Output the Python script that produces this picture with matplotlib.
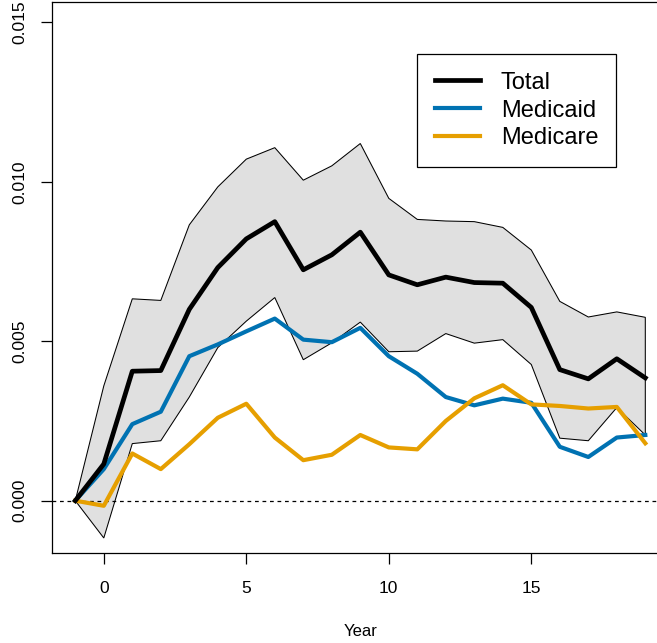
import matplotlib
matplotlib.use("Agg")
import matplotlib.pyplot as plt
import numpy as np

plt.rcParams['font.family'] = ['Liberation Sans', 'DejaVu Sans']

# event-study estimates by year relative to adoption
years = list(range(-1, 20))
total = [0.0, 0.00115, 0.00406, 0.00408, 0.0060, 0.00731, 0.00821, 0.00875, 0.00724,
         0.00771, 0.00842, 0.00708, 0.00677, 0.00701, 0.00684, 0.00682, 0.00606,
         0.00411, 0.00382, 0.00445, 0.00385]
upper = [0.0, 0.0036, 0.00633, 0.00628, 0.00865, 0.00984, 0.01071, 0.01107, 0.01005,
         0.0105, 0.0112, 0.00948, 0.00882, 0.00877, 0.00875, 0.00857, 0.00786,
         0.00625, 0.00576, 0.00592, 0.00575]
lower = [0.0, -0.00117, 0.00179, 0.00188, 0.00325, 0.0048, 0.00563, 0.00637, 0.00442,
         0.00495, 0.0056, 0.00467, 0.00469, 0.00524, 0.00494, 0.00505, 0.00427,
         0.00196, 0.00188, 0.00292, 0.00206]
medicaid = [0.0, 0.00099, 0.0024, 0.00279, 0.00453, 0.0049, 0.00531, 0.00571, 0.00505,
            0.00497, 0.00542, 0.00453, 0.00398, 0.00325, 0.00299, 0.0032, 0.00307,
            0.00169, 0.00137, 0.00198, 0.00206]
medicare = [0.0, -0.00016, 0.00148, 0.00099, 0.00177, 0.0026, 0.00304, 0.00198, 0.00127,
            0.00144, 0.00206, 0.00167, 0.00161, 0.0025, 0.00321, 0.00362, 0.00302,
            0.00297, 0.00289, 0.00294, 0.0018]

fig = plt.figure(figsize=(6.57, 6.43), dpi=100)
ax = fig.add_axes([0.0799, 0.140, 0.937, 0.857])

# confidence band for the total
band_x = years + years[::-1]
band_y = upper + lower[::-1]
ax.fill(band_x, band_y, facecolor='#e0e0e0', edgecolor='black', linewidth=0.75, zorder=1)

ax.axhline(0, color='black', linestyle=(0, (3, 3)), linewidth=0.9, zorder=2)

ax.plot(years, total, color='black', linewidth=3.4, label='Total', zorder=4,
        solid_joinstyle='round')
ax.plot(years, medicaid, color='#0072B2', linewidth=3.0, label='Medicaid', zorder=3,
        solid_joinstyle='round')
ax.plot(years, medicare, color='#E69F00', linewidth=3.0, label='Medicare', zorder=3,
        solid_joinstyle='round')

ax.set_xlim(-1.8, 19.8)
ax.set_ylim(-0.00164, 0.01564)
ax.set_xticks([0, 5, 10, 15])
ax.set_yticks([0.0, 0.005, 0.010, 0.015])
ax.set_yticklabels(['0.000', '0.005', '0.010', '0.015'], rotation=90, va='center')
ax.tick_params(axis='both', direction='out', length=8, width=0.9, labelsize=12.5, pad=10)
ax.tick_params(axis='x', pad=12)
ax.set_xlabel('Year', fontsize=12, labelpad=20)

for side in ['top', 'right']:
    ax.spines[side].set_visible(False)
for side in ['left', 'bottom']:
    ax.spines[side].set_linewidth(0.9)
# box border like base graphics
ax.plot([-1.8, 19.8], [0.01564, 0.01564], color='black', linewidth=0.9,
        clip_on=False, zorder=5)

leg = ax.legend(loc='upper left', bbox_to_anchor=(0.592, 0.9056), fontsize=17,
                fancybox=False, framealpha=1, edgecolor='black', borderpad=0.75,
                handlelength=1.9, handletextpad=0.9, labelspacing=0.25,
                borderaxespad=0)
leg.get_frame().set_linewidth(0.9)

fig.savefig('out.png', dpi=100)
